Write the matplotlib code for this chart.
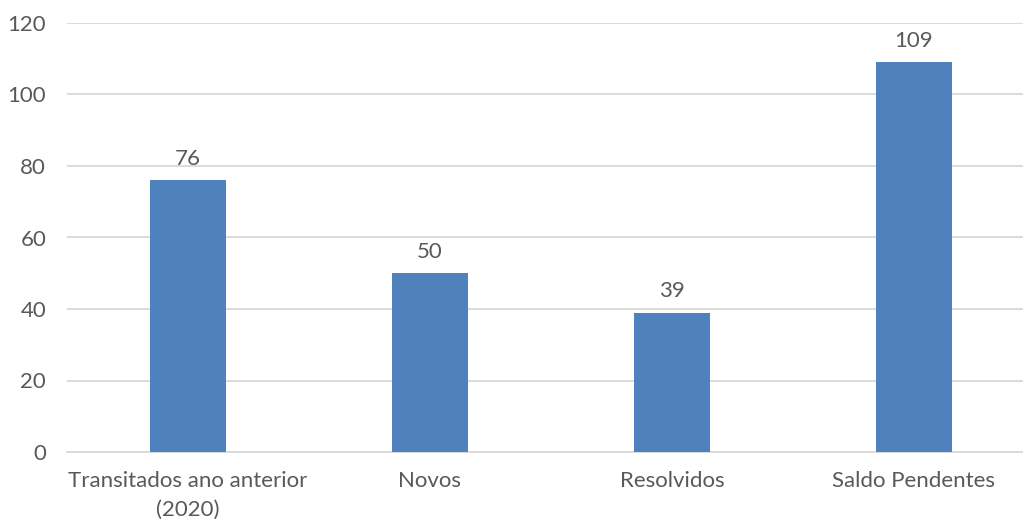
import matplotlib.pyplot as plt

categories = ['Transitados ano anterior\n(2020)', 'Novos', 'Resolvidos', 'Saldo Pendentes']
values = [76, 50, 39, 109]
yticks = [0, 20, 40, 60, 80, 100, 120]

bar_color = '#4F81BD'
text_color = '#595959'
grid_color = '#D9D9D9'

plt.rcParams['font.family'] = ['Lato', 'DejaVu Sans']

fig = plt.figure(figsize=(10.23, 5.22), dpi=100)
ax = fig.add_axes([67 / 1023, 70 / 522, (1023 - 67) / 1023, 429 / 522])

x = range(len(categories))
bars = ax.bar(x, values, width=0.314, color=bar_color, zorder=3)

for b, v in zip(bars, values):
    ax.annotate(str(v), (b.get_x() + b.get_width() / 2, v), xytext=(0, 8),
                textcoords='offset points', ha='center', va='bottom',
                fontsize=16, color=text_color)

ax.set_ylim(0, 120)
ax.set_xlim(-0.5, 3.5 - 12 / 242)
ax.set_yticks(yticks)
ax.set_xticks(list(x))
ax.set_xticklabels(categories, linespacing=1.5)
ax.yaxis.grid(True, color=grid_color, linewidth=1.3, zorder=0)
for s in ['top', 'right', 'left']:
    ax.spines[s].set_visible(False)
ax.spines['bottom'].set_color(grid_color)
ax.spines['bottom'].set_linewidth(1.3)
ax.tick_params(axis='both', length=0, labelsize=16, colors=text_color)
ax.tick_params(axis='y', pad=15)
ax.tick_params(axis='x', pad=14)

fig.savefig('out.png', dpi=100)
